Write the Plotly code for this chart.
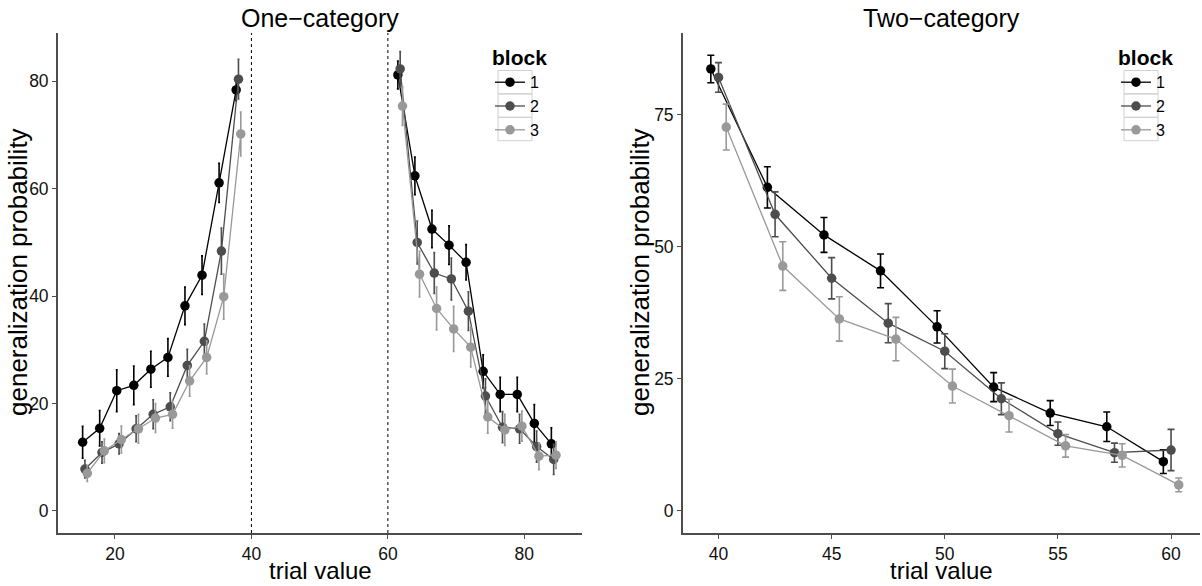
import plotly.graph_objects as go

# ---------------- data ----------------
blocks = ["1", "2", "3"]

# One-category condition: trial values (two separate runs, below 40 and above 60)
trial_one_low = [15.6, 18.1, 20.6, 23.1, 25.6, 28.1, 30.6, 33.1, 35.6, 38.1]
trial_one_high = [61.8, 64.3, 66.8, 69.3, 71.8, 74.3, 76.8, 79.3, 81.8, 84.3]

one_b1_low = [12.8, 15.4, 22.4, 23.4, 26.4, 28.6, 38.2, 43.9, 61.1, 78.4]
one_b1_high = [81.2, 62.4, 52.5, 49.5, 46.3, 26.0, 21.7, 21.7, 16.3, 12.5]
one_b1_se_low = [2.95, 3.3, 3.9, 3.6, 3.35, 3.5, 3.5, 3.6, 3.65, 2.0]
one_b1_se_high = [2.6, 3.5, 3.5, 3.6, 3.3, 3.1, 3.2, 3.2, 3.5, 3.0]

one_b2_low = [7.8, 10.9, 12.5, 15.3, 18.0, 19.4, 27.1, 31.6, 48.4, 80.4]
one_b2_high = [82.3, 50.0, 44.3, 43.2, 37.2, 21.4, 15.6, 15.3, 12.0, 9.6]
one_b2_se_low = [1.65, 2.0, 1.9, 2.4, 2.7, 2.6, 3.0, 3.2, 4.3, 3.7]
one_b2_se_high = [3.25, 4.0, 3.8, 3.9, 3.6, 3.2, 2.9, 2.7, 2.9, 2.8]

one_b3_low = [7.0, 11.2, 13.3, 15.3, 17.3, 18.0, 24.2, 28.6, 39.9, 70.2]
one_b3_high = [75.4, 44.1, 37.7, 33.9, 30.5, 17.5, 15.1, 15.8, 10.2, 10.4]
one_b3_se_low = [1.5, 2.2, 2.5, 2.7, 2.7, 2.6, 2.85, 3.1, 4.2, 4.1]
one_b3_se_high = [3.6, 4.25, 4.0, 4.2, 3.7, 3.0, 2.9, 2.8, 2.5, 2.5]

# Two-category condition
trial_two = [40, 42.5, 45, 47.5, 50, 52.5, 55, 57.5, 60]
two_b1 = [83.6, 61.2, 52.2, 45.4, 34.8, 23.4, 18.5, 15.9, 9.3]
two_b1_se = [2.6, 3.9, 3.3, 3.2, 3.05, 2.75, 2.35, 2.8, 2.25]
two_b2 = [82.0, 56.1, 44.0, 35.5, 30.2, 21.2, 14.6, 11.0, 11.5]
two_b2_se = [2.8, 4.25, 3.9, 3.7, 3.3, 3.0, 2.2, 1.8, 3.9]
two_b3 = [72.6, 46.3, 36.3, 32.5, 23.6, 18.0, 12.3, 10.5, 4.9]
two_b3_se = [4.35, 4.6, 4.2, 4.1, 3.2, 3.1, 2.15, 2.2, 1.3]

one_boundaries = [40, 60]
yticks_one = [0, 20, 40, 60, 80]
yticks_two = [0, 25, 50, 75]
xticks_one = [20, 40, 60, 80]
xticks_two = [40, 45, 50, 55, 60]

# ---------------- style ----------------
FONT = "Liberation Sans, Arial, sans-serif"
colors = {"1": "#000000", "2": "#4D4D4D", "3": "#999999"}
dodge = {"1": -0.34, "2": 0.0, "3": 0.34}
AXIS_COLOR = "#4D4D4D"

fig = go.Figure()

one_series = {
    "1": (one_b1_low, one_b1_se_low, one_b1_high, one_b1_se_high),
    "2": (one_b2_low, one_b2_se_low, one_b2_high, one_b2_se_high),
    "3": (one_b3_low, one_b3_se_low, one_b3_high, one_b3_se_high),
}
two_series = {"1": (two_b1, two_b1_se), "2": (two_b2, two_b2_se), "3": (two_b3, two_b3_se)}


def dodged(xs, b):
    return [x + dodge[b] for x in xs]


for b in blocks:
    lo, lo_se, hi, hi_se = one_series[b]
    for i, (xs, ys, se) in enumerate([(trial_one_low, lo, lo_se), (trial_one_high, hi, hi_se)]):
        fig.add_trace(go.Scatter(
            x=dodged(xs, b), y=ys, mode="lines+markers", name=b,
            legendgroup="one" + b, showlegend=(i == 0), legend="legend",
            line=dict(color=colors[b], width=1.3),
            marker=dict(color=colors[b], size=9.5),
            error_y=dict(type="data", array=se, visible=True, color=colors[b],
                         thickness=1.6, width=1),
            xaxis="x", yaxis="y",
        ))

for b in blocks:
    ys, se = two_series[b]
    fig.add_trace(go.Scatter(
        x=dodged(trial_two, b), y=ys, mode="lines+markers", name=b,
        legendgroup="two" + b, showlegend=True, legend="legend2",
        line=dict(color=colors[b], width=1.3),
        marker=dict(color=colors[b], size=9.5),
        error_y=dict(type="data", array=se, visible=True, color=colors[b],
                     thickness=1.6, width=3.5),
        xaxis="x2", yaxis="y2",
    ))

# Page body margin is removed (see post_script), so figure pixels = window pixels.
W, H = 1202, 586


def px_x(p):
    return p / W


def px_y(p):
    return 1 - p / H


top, bottom = 33, 533
ydom = [px_y(bottom), px_y(top)]

axis_common = dict(
    showgrid=False, zeroline=False, showline=True, linecolor=AXIS_COLOR, linewidth=1.8,
    ticks="outside", ticklen=4, tickwidth=1.2, tickcolor=AXIS_COLOR,
    tickfont=dict(family=FONT, size=17.5, color="#111111"), mirror=False,
)

legend_common = dict(
    xanchor="left", yanchor="top",
    title=dict(text="<b>block</b>", font=dict(family=FONT, size=21)),
    font=dict(family=FONT, size=16), bgcolor="rgba(0,0,0,0)",
    itemwidth=30, tracegroupgap=0,
)

LEG1_X, LEG2_X, LEG_Y = 490, 1116, 38

fig.update_layout(
    width=W, height=H,
    margin=dict(l=0, r=0, t=0, b=0),
    paper_bgcolor="white", plot_bgcolor="white",
    font=dict(family=FONT, color="black"),
    xaxis=dict(domain=[px_x(58), px_x(582)], range=[11.65, 88.45],
               tickvals=xticks_one, anchor="y", **axis_common),
    yaxis=dict(domain=ydom, range=[-4.1, 89.0], tickvals=yticks_one, anchor="x",
               **axis_common),
    xaxis2=dict(domain=[px_x(683), px_x(1200)], range=[38.43, 61.28],
                tickvals=xticks_two, anchor="y2", **axis_common),
    yaxis2=dict(domain=ydom, range=[-4.2, 90.4], tickvals=yticks_two, anchor="x2",
                **axis_common),
    legend=dict(x=px_x(LEG1_X), y=px_y(LEG_Y), **legend_common),
    legend2=dict(x=px_x(LEG2_X), y=px_y(LEG_Y), **legend_common),
)

for xb in one_boundaries:
    fig.add_shape(type="line", x0=xb, x1=xb, y0=0, y1=1, xref="x", yref="y domain",
                  line=dict(color="black", width=1, dash="dot"))

# legend key boxes (light grey frames like the reference legend keys)
ROW_H = 23.4
for lx in [LEG1_X, LEG2_X]:
    for k in range(3):
        y0 = LEG_Y + 32.5 + k * ROW_H
        fig.add_shape(type="rect", xref="paper", yref="paper",
                      x0=px_x(lx + 8), x1=px_x(lx + 42), y0=px_y(y0 + ROW_H), y1=px_y(y0),
                      line=dict(color="#D0D0D0", width=1), fillcolor="rgba(0,0,0,0)",
                      layer="below")

# panel titles and axis titles
for cx, txt in [((58 + 582) / 2, "One\u2212category"), ((683 + 1200) / 2, "Two\u2212category")]:
    fig.add_annotation(x=px_x(cx), y=px_y(18), xref="paper", yref="paper", text=txt,
                       showarrow=False, font=dict(family=FONT, size=25, color="black"),
                       xanchor="center", yanchor="middle")
for cx in [(58 + 582) / 2, (683 + 1200) / 2]:
    fig.add_annotation(x=px_x(cx), y=px_y(570.5), xref="paper", yref="paper", text="trial value",
                       showarrow=False, font=dict(family=FONT, size=24, color="black"),
                       xanchor="center", yanchor="middle")
for cx in [18, 640]:
    fig.add_annotation(x=px_x(cx), y=px_y(272), xref="paper", yref="paper",
                       text="generalization probability", textangle=-90,
                       showarrow=False, font=dict(family=FONT, size=26, color="black"),
                       xanchor="center", yanchor="middle")

fig.write_html("out.html",
               config={"displayModeBar": False},
               post_script="document.body.style.margin='0';document.body.style.overflow='hidden';")
